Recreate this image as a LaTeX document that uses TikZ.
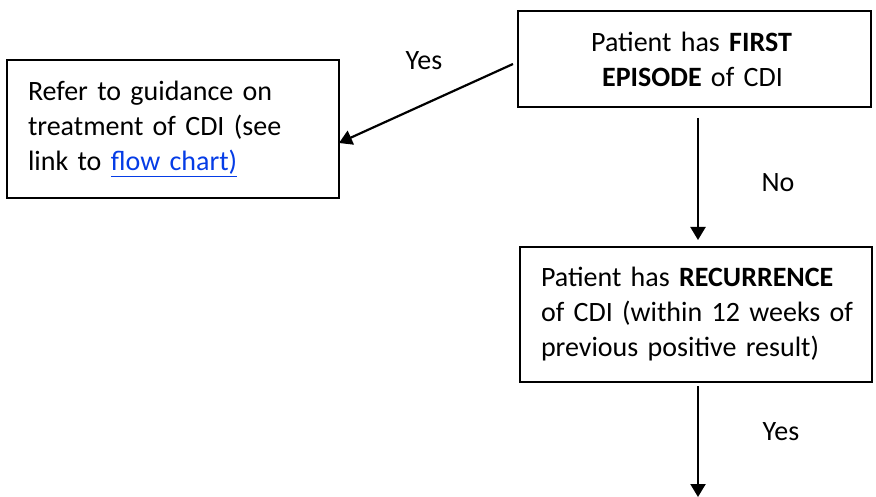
\documentclass[tikz,border=0pt]{standalone}
\usepackage{fontspec}
\setmainfont{Carlito}
\usetikzlibrary{arrows.meta}
\definecolor{linkblue}{RGB}{5,60,230}
\begin{document}
\begin{tikzpicture}[x=1pt,y=-1pt,
  box/.style={draw=black,line width=1.6pt,rectangle,inner ysep=0pt,font=\fontsize{28}{35}\selectfont},
  conn/.style={line width=2.2pt,-{Triangle[width=15pt,length=13pt]}},
  lbl/.style={font=\fontsize{28}{35}\selectfont,inner sep=0pt}]
\useasboundingbox (0,0) rectangle (876,497);
\node[box,minimum width=332pt,minimum height=138pt,text width=290pt,inner xsep=21pt,align=left] (refer) at (173,129)
  {Refer to guidance on\\treatment of CDI (see\\link to \textcolor{linkblue}{\underline{flow chart)}}};
\node[box,minimum width=353pt,minimum height=96pt,text width=343pt,inner xsep=5pt,align=center] (first) at (694.5,59)
  {\hspace*{-6pt}Patient has \textbf{FIRST}\\\hspace*{-4pt}\textbf{EPISODE} of CDI};
\node[box,minimum width=352pt,minimum height=135pt,text width=330pt,inner xsep=11pt,align=left] (recur) at (696,314.5)
  {\hspace*{10pt}Patient has \textbf{RECURRENCE}\\\hspace*{10pt}of CDI (within 12 weeks of\\\hspace*{10pt}previous positive result)};
\coordinate (s1) at (513,64);
\coordinate (t1) at (339,143);
\coordinate (s2) at (698,118);
\coordinate (t2) at (698,240);
\coordinate (s3) at (698,386);
\coordinate (t3) at (698,497);
\draw[conn] (s1) -- (t1);
\draw[conn] (s2) -- (t2);
\draw[conn] (s3) -- (t3);
\node[lbl] (yes1) at (424,61) {Yes};
\node[lbl] (no) at (778,183) {No};
\node[lbl] (yes2) at (781,432) {Yes};
\end{tikzpicture}
\end{document}
